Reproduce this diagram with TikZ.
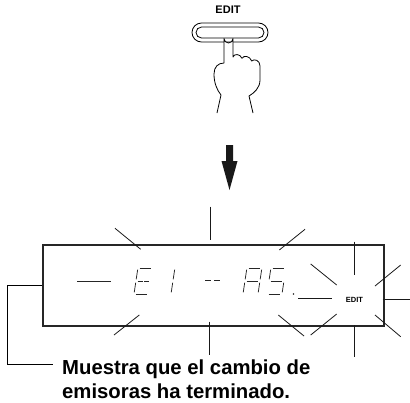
\documentclass[tikz,border=0pt]{standalone}
\usepackage{fontspec}
\setmainfont{Liberation Sans}
\begin{document}
\begin{tikzpicture}[x=1pt,y=-1pt,
  ray/.style={line width=0.8pt, black!90},
  segline/.style={line width=0.75pt, black!85, line cap=butt},
  outline/.style={line width=0.8pt, black},
  lcdframe/.style={draw=black!85, line width=2.2pt, minimum width=341pt, minimum height=81pt, inner sep=0pt},
  labelbold/.style={font=\bfseries\fontsize{20.3}{24}\selectfont, inner sep=0pt, anchor=base west}
]
\useasboundingbox (0,0) rectangle (410,402);

% seven-segment helpers: origin at bottom-left of an upright cell, slanted
\def\sw{15}\def\sh{26}\def\sg{1.6}
\newcommand\segA{\draw[segline] (\sg,-\sh) -- (\sw-\sg,-\sh);}
\newcommand\segB{\draw[segline] (\sw,-\sh+\sg) -- (\sw,-\sh/2-\sg);}
\newcommand\segC{\draw[segline] (\sw,-\sh/2+\sg) -- (\sw,-\sg);}
\newcommand\segD{\draw[segline] (\sg,0) -- (\sw-\sg,0);}
\newcommand\segE{\draw[segline] (0,-\sg) -- (0,-\sh/2+\sg);}
\newcommand\segF{\draw[segline] (0,-\sh/2-\sg) -- (0,-\sh+\sg);}
\newcommand\segG{\draw[segline] (\sg,-\sh/2) -- (\sw-\sg,-\sh/2);}
\newcommand\segGsplit{\draw[segline] (\sg,-\sh/2) -- (\sw/2-0.8,-\sh/2) (\sw/2+0.8,-\sh/2) -- (\sw-\sg,-\sh/2);}

% EDIT key
\node[font=\bfseries\fontsize{11}{12}\selectfont, inner sep=0pt] (keylabel) at (228,10) {EDIT};
\draw[outline, rounded corners=9.5pt] (192,23) rectangle (268,42);
\draw[outline, rounded corners=5.5pt] (196,27) rectangle (264,38);

% pressing hand
\fill[white] (224,46) -- (224,38.5) arc[start angle=180, end angle=0, radius=4.5] -- (233,46) -- cycle;
\draw[outline, line join=round]
  (224,63) -- (224,38.5) arc[start angle=180, end angle=0, radius=4.5] -- (233,57)
  .. controls (234,53.5) and (240,53.5) .. (242,58.3)
  .. controls (243.5,55) and (250,56) .. (251.7,61)
  .. controls (254,58.5) and (260,60) .. (260,66)
  -- (260,80)
  .. controls (260,88) and (254,93) .. (249,96)
  -- (253,113);
\draw[outline, line join=round]
  (224,63) .. controls (218,63) and (214,67) .. (214,74)
  .. controls (214,83) and (217,90) .. (221,95)
  -- (217,113);

% downward arrow
\fill[black!90] (226,145) -- (233,145) -- (233,161) -- (237.5,161) -- (229.5,190)
  -- (221.5,161) -- (226,161) -- cycle;

% display frame
\node[lcdframe] (disp) at (213.8,285.5) {};

% segment readout
\draw[segline] (77,281) -- (111,281);
\begin{scope}[shift={(134,294)}, xslant=0.15]
  \segA \segD \segE \segF \segGsplit
\end{scope}
\begin{scope}[shift={(156,294)}, xslant=0.15]
  \segB \segC
\end{scope}
\draw[segline] (205,280) -- (210.5,280) (214,280) -- (219.5,280);
\begin{scope}[shift={(243,294)}, xslant=0.15]
  \segA \segB \segC \segE \segF \segG
\end{scope}
\begin{scope}[shift={(267,294)}, xslant=0.15]
  \segA \segF \segG \segC \segD
\end{scope}
\fill[black!85] (293.5,294) circle[radius=0.8];

% blinking rays around the frame
\draw[ray] (210,206.7) -- (210,240);
\draw[ray] (115,228.3) -- (140.7,249.3);
\draw[ray] (305,229.3) -- (279.3,250);
\draw[ray] (139.3,315) -- (114,335);
\draw[ray] (209,321.7) -- (209,355);
\draw[ray] (278.3,315) -- (304,336);

% EDIT indicator with its rays
\node[font=\bfseries\fontsize{7.5}{8}\selectfont, inner sep=0pt] (ind) at (354.5,300) {EDIT};
\draw[ray] (354,241.7) -- (354,275);
\draw[ray] (310.7,264) -- (336.7,285);
\draw[ray] (400.7,265) -- (375,286);
\draw[ray] (298.3,298) -- (331.7,298);
\draw[ray] (382.7,299) -- (410,299);
\draw[ray] (336.7,314) -- (310.7,335);
\draw[ray] (375,315) -- (400.7,336.7);
\draw[ray] (354,325) -- (354,357.3);

% caption and leader
\node[labelbold] (txt1) at (62,374) {Muestra que el cambio de};
\node[labelbold] (txt2) at (62,398) {emisoras ha terminado.};
\coordinate (bend) at (7,364);
\coordinate (hook) at (53,364);
\draw[line width=0.8pt] (disp.west) -| (bend) -- (hook);
\end{tikzpicture}
\end{document}
